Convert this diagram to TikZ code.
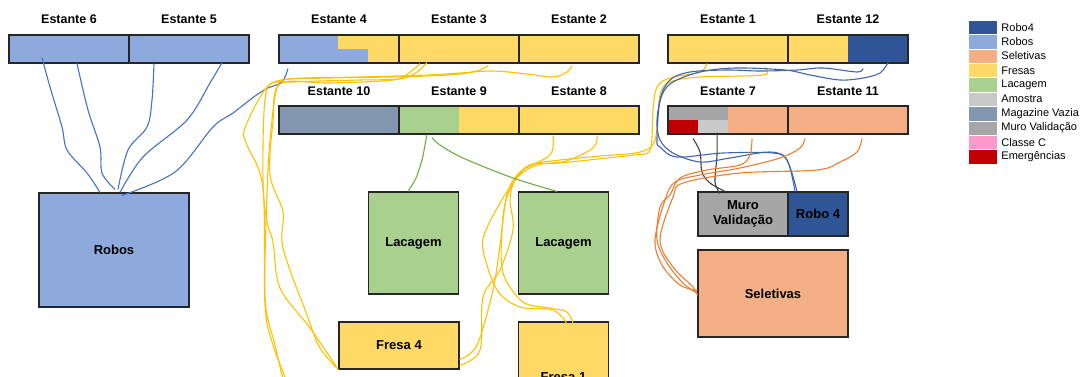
\documentclass[tikz,border=0pt]{standalone}
\usepackage{fontspec}
\setmainfont{Liberation Sans}
\usetikzlibrary{positioning}
\definecolor{roboquatro}{HTML}{2F5597}
\definecolor{robos}{HTML}{8EA9DB}
\definecolor{seletivas}{HTML}{F4B084}
\definecolor{fresas}{HTML}{FFD966}
\definecolor{lacagem}{HTML}{A9D08E}
\definecolor{amostra}{HTML}{C9C9C9}
\definecolor{magazine}{HTML}{8497B0}
\definecolor{muro}{HTML}{A6A6A6}
\definecolor{classec}{HTML}{FF99CC}
\definecolor{emergencia}{HTML}{C00000}
\definecolor{borda}{HTML}{262626}
\definecolor{robosfio}{HTML}{4472C4}
\definecolor{fresasfio}{HTML}{FFC000}
\definecolor{lacfio}{HTML}{70AD47}
\definecolor{murofio}{HTML}{3F3F3F}
\definecolor{robo4fio}{HTML}{4065A8}
\definecolor{selfio}{HTML}{ED7D31}

\begin{document}
\begin{tikzpicture}[x=1pt,y=-1pt,
    shelf/.style={draw=borda,line width=1.2pt,minimum width=120pt,minimum height=28pt,inner sep=0pt},
    caixa/.style={draw=borda,line width=1.2pt,inner sep=0pt,align=center,
      font=\bfseries\fontsize{13}{15}\selectfont},
    rotulo/.style={font=\bfseries\fontsize{12.5}{14}\selectfont},
    legcx/.style={draw=white,line width=0.5pt,minimum width=29pt,minimum height=14.4pt,inner sep=0pt},
    legtx/.style={font=\fontsize{11}{12}\selectfont,inner sep=1pt},
    fio/.style={line width=1.1pt,smooth,tension=0.55},
    robosln/.style={fio,draw=robosfio},
    fresaln/.style={fio,draw=fresasfio},
    lacln/.style={fio,draw=lacfio},
    muroln/.style={fio,draw=murofio},
    robo4ln/.style={fio,draw=robo4fio},
    selln/.style={fio,draw=selfio}]
  \useasboundingbox (0,0) rectangle (1081,376);
  \clip (0,0) rectangle (1081,376);
  \def\ppbb{path picture bounding box}

  \node[shelf,fill=robos] (e6) at (69,49) {};
  \node[shelf,fill=robos] (e5) at (189,49) {};
  \node[shelf,fill=robos,path picture={
      \fill[fresas] ([xshift=59pt]\ppbb.north west) rectangle (\ppbb.east);
      \fill[fresas] ([xshift=89pt]\ppbb.south west) rectangle (\ppbb.east);}] (e4) at (339,49) {};
  \node[shelf,fill=fresas] (e3) at (459,49) {};
  \node[shelf,fill=fresas] (e2) at (579,49) {};
  \node[shelf,fill=fresas] (e1) at (728,49) {};
  \node[shelf,fill=fresas,path picture={
      \fill[roboquatro] ([xshift=60pt]\ppbb.north west) rectangle (\ppbb.south east);}] (e12) at (848,49) {};

  \node[shelf,fill=magazine] (e10) at (339,120) {};
  \node[shelf,fill=lacagem,path picture={
      \fill[fresas] ([xshift=60pt]\ppbb.north west) rectangle (\ppbb.south east);}] (e9) at (459,120) {};
  \node[shelf,fill=fresas] (e8) at (579,120) {};
  \node[shelf,fill=seletivas,path picture={
      \fill[muro] (\ppbb.north west) rectangle ([xshift=60pt]\ppbb.west);
      \fill[emergencia] (\ppbb.west) rectangle ([xshift=30pt]\ppbb.south west);
      \fill[amostra] ([xshift=30pt]\ppbb.west) rectangle ([xshift=60pt]\ppbb.south west);}] (e7) at (728,120) {};
  \node[shelf,fill=seletivas] (e11) at (848,120) {};

  \node[rotulo] (t6) at (69,19) {Estante 6};
  \node[rotulo] (t5) at (189,19) {Estante 5};
  \node[rotulo] (t4) at (339,19) {Estante 4};
  \node[rotulo] (t3) at (459,19) {Estante 3};
  \node[rotulo] (t2) at (579,19) {Estante 2};
  \node[rotulo] (t1) at (728,19) {Estante 1};
  \node[rotulo] (t12) at (848,19) {Estante 12};
  \node[rotulo] (t10) at (339,91) {Estante 10};
  \node[rotulo] (t9) at (459,91) {Estante 9};
  \node[rotulo] (t8) at (579,91) {Estante 8};
  \node[rotulo] (t7) at (728,91) {Estante 7};
  \node[rotulo] (t11) at (848,91) {Estante 11};

  \node[caixa,fill=robos,minimum width=150pt,minimum height=114pt] (rb) at (114,250) {Robos};
  \node[caixa,fill=lacagem,minimum width=90pt,minimum height=102pt] (lac1) at (413.5,243) {Lacagem};
  \node[caixa,fill=lacagem,minimum width=90pt,minimum height=102pt] (lac2) at (563.5,243) {Lacagem};
  \node[caixa,fill=fresas,minimum width=120pt,minimum height=47pt] (f4) at (399,345.5) {Fresa 4};
  \node[caixa,fill=fresas,minimum width=90pt,minimum height=110pt] (f1) at (563.5,377) {Fresa 1};
  \node[caixa,fill=muro,minimum width=90pt,minimum height=44pt] (muro) at (743,214) {Muro\\Validação};
  \node[caixa,fill=roboquatro,minimum width=60pt,minimum height=44pt] (r4) at (818,214) {Robo 4};
  \node[caixa,fill=seletivas,minimum width=150pt,minimum height=87pt] (sel) at (773,293.5) {Seletivas};
  \coordinate (fora) at (288,384);
  \coordinate (fora2) at (284,384);

  \draw[robosln] plot coordinates {([xshift=-27pt,yshift=6pt]e6.south) (50,87) (62,127) (67,150) (87,173) ([xshift=-14pt]rb.north)};
  \draw[robosln] plot coordinates {([xshift=8pt]e6.south) (88,110) (100,147) (102,173) ([xshift=1pt,yshift=3pt]rb.north)};
  \draw[robosln] plot coordinates {([xshift=-35pt]e5.south) (152,100) (147,127) (128,150) ([xshift=4pt,yshift=3pt]rb.north)};
  \draw[robosln] plot coordinates {([xshift=33pt,yshift=1pt]e5.south) (210,83) (187,120) (143,157) ([xshift=6pt]rb.north)};
  \draw[robosln] plot coordinates {([xshift=-51pt,yshift=-5pt]e4.south) (282,82) (268,88) (255,96) (233,113) (213,127) (175,172) ([xshift=8pt,yshift=-3pt]rb.north)};

  \draw[fresaln] plot coordinates {([xshift=-32pt,yshift=1pt]e3.south) (417,72) (400,79) (360,80) (293,82) (268,86) (245,128) (247,145) (263,188) (265,305) (273,345) (fora)};
  \draw[fresaln] plot coordinates {([xshift=-39pt]e3.south) (410,72) (393,80) (330,83) (280,84) (273,122) (270,175) (283,212) (283,248) (307,315) (320,348) (f4.south west)};
  \draw[fresaln] plot coordinates {([xshift=29pt,yshift=-2pt]e3.south) (480,70) (460,74) (427,76) (393,77) (330,78) (277,81) (265,100) (263,182) (267,222) (273,242) (280,288) (310,328) ([xshift=-2pt,yshift=3pt]f4.south west)};
  \draw[fresaln] plot coordinates {([xshift=-7pt,yshift=-2pt]e2.south) (567,72) (553,77) (527,74) (493,71) (460,73) (427,75) (360,77) (290,79) (277,88) (270,140) (267,195) (265,298) (275,345) (fora2)};
  \draw[fresaln] plot coordinates {([xshift=-26pt,yshift=-1pt]e8.south) (550,155) (520,172) (507,195) (500,245) (493,290) (477,345) ([yshift=-14pt]f4.east)};
  \draw[fresaln] plot coordinates {([xshift=18pt,yshift=-1pt]e8.south) (593,148) (563,162) (530,165) (517,178) (503,198) (486,230) (483,250) (497,290) (520,307) (553,310) ([xshift=4pt,yshift=-3pt]f1.north)};
  \draw[fresaln] plot coordinates {([xshift=-21pt]e1.south) (700,72) (670,78) (657,87) (653,110) (650,150) (633,155) (607,158) (570,162) (537,165) (517,178) (506,200) (502,230) (503,273) (523,302) (550,308) (567,312) ([xshift=10pt,yshift=-3pt]f1.north)};
  \draw[fresaln] plot coordinates {([xshift=37pt,yshift=-4pt]e1.south) (763,75) (700,77) (670,82) (660,95) (655,140) (640,152) (600,156) (560,160) (530,165) (515,180) (510,200) (513,230) (500,270) (483,297) (480,350) ([yshift=-20pt]f4.east)};

  \draw[lacln] plot coordinates {([xshift=-32pt]e9.south) (425,145) (422,160) (416,178) ([xshift=-5.5pt]lac1.north)};
  \draw[lacln] plot coordinates {([xshift=-27pt,yshift=-3pt]e9.south) (440,145) (463,158) (513,178) ([xshift=-6.5pt]lac2.north)};

  \draw[muroln] plot coordinates {([xshift=-35pt,yshift=-4pt]e7.south) (700,152) (702,172) (710,183) ([xshift=-18pt]muro.north)};
  \draw[muroln] plot coordinates {([xshift=-11pt,yshift=2pt]e7.south) (717,155) (715,182) ([xshift=-23pt,yshift=-2pt]muro.north)};

  \draw[robo4ln] plot coordinates {([xshift=40pt,yshift=1pt]e12.south) (880,73) (863,78) (840,80) (810,75) (785,70) (735,68) (700,72) (673,82) (662,95) (657,120) (660,140) (673,153) (700,162) (730,158) (770,152) (787,160) ([xshift=-23pt]r4.north)};
  \draw[robo4ln] plot coordinates {([xshift=15pt,yshift=-5pt]e12.south) (857,72) (823,68) (797,70) (760,71) (727,70) (690,72) (670,80) (660,100) (657,140) (660,147) (677,157) (723,153) (773,153) (787,160) ([xshift=-21pt]r4.north)};

  \draw[selln] plot coordinates {([xshift=24pt,yshift=-4pt]e7.south) (750,155) (740,165) (707,170) (680,178) (670,195) (660,207) (657,240) (667,263) (683,283) (sel.west)};
  \draw[selln] plot coordinates {([xshift=-43pt,yshift=-4pt]e11.south) (800,148) (780,158) (740,168) (700,175) (675,182) (665,200) (655,240) (662,265) (680,285) ([yshift=3pt]sel.west)};
  \draw[selln] plot coordinates {([xshift=14pt,yshift=-4pt]e11.south) (857,152) (840,162) (817,170) (740,173) (683,183) (673,197) (660,240) (673,267) (693,287) ([yshift=-2pt]sel.west)};

  \foreach \cor/\nome [count=\i from 0] in {roboquatro/Robo4,robos/Robos,seletivas/Seletivas,fresas/Fresas,lacagem/Lacagem,amostra/Amostra,magazine/Magazine Vazia,muro/Muro Validação,classec/Classe C,emergencia/Emergências}{
    \node[legcx,fill=\cor] (q\i) at (982.5,{27.2+14.4*\i}) {};
    \node[legtx,right=3pt of q\i] (n\i) {\nome};
  }
\end{tikzpicture}
\end{document}
